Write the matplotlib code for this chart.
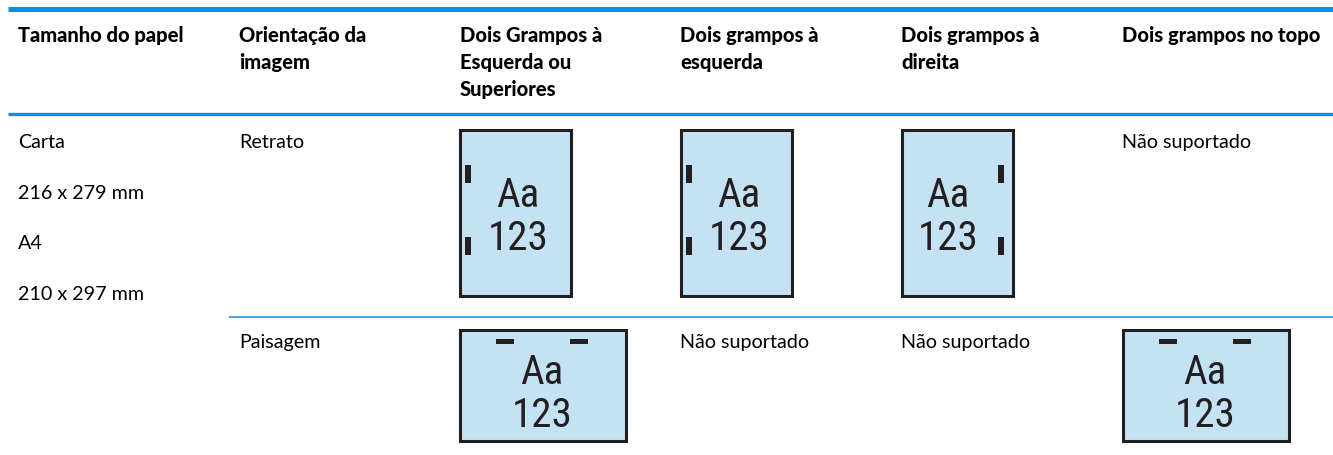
import matplotlib
matplotlib.use("Agg")
import matplotlib.pyplot as plt
from matplotlib import font_manager
from matplotlib.patches import Rectangle

# table content
headers = [
    "Tamanho do papel",
    "Orientação da\nimagem",
    "Dois Grampos à\nEsquerda ou\nSuperiores",
    "Dois grampos à\nesquerda",
    "Dois grampos à\ndireita",
    "Dois grampos no topo",
]
paper_sizes = ["Carta", "216 x 279 mm", "A4", "210 x 297 mm"]
orientations = ["Retrato", "Paisagem"]
# what sits in each stapling column, per orientation
cells = [
    ["left", "left", "right", None],
    ["top", None, None, "top"],
]
unsupported = "Não suportado"

BLUE = "#0096d6"
INK = "#231f20"
PAGE = "#c5e2f5"
W, H = 1333, 456

plt.rcParams["font.family"] = ["Lato", "DejaVu Sans"]
installed = {f.name for f in font_manager.fontManager.ttflist}
icon_font = "Roboto Condensed" if "Roboto Condensed" in installed else "Lato"
icon_size = 29.5 if icon_font == "Roboto Condensed" else 27.5

fig = plt.figure(figsize=(W / 100, H / 100), dpi=100)
ax = fig.add_axes([0, 0, 1, 1])
ax.set_xlim(0, W)
ax.set_ylim(H, 0)
ax.axis("off")

x0 = 8
colw = (W - x0) / len(headers)
col_left = [x0 + i * colw for i in range(len(headers))]
pad = 10
row_base = [148, 348]
FS = 14.2

# rules
ax.plot([x0, W], [9.5, 9.5], color=BLUE, lw=3.6, solid_capstyle="butt")
ax.plot([x0, W], [115, 115], color=BLUE, lw=2.4, solid_capstyle="butt")
ax.plot([col_left[1], W], [317.5, 317.5], color=BLUE, lw=1.1, solid_capstyle="butt")

# header
for i, h in enumerate(headers):
    for k, line in enumerate(h.split("\n")):
        ax.text(col_left[i] + pad, 42 + k * 27, line, fontsize=14.5, fontweight=900,
                va="baseline", ha="left", color="black")

# paper sizes
for k, s in enumerate(paper_sizes):
    ax.text(col_left[0] + pad, row_base[0] + k * 50.7, s, fontsize=FS,
            va="baseline", ha="left", color="black")

def page(x, y, kind):
    if kind == "top":
        w, h = 166, 111
    else:
        w, h = 111, 166
    ax.add_patch(Rectangle((x, y), w, h, facecolor=PAGE, edgecolor=INK, lw=2.2))
    if kind == "left":
        for sy in (35, 107):
            ax.add_patch(Rectangle((x + 5, y + sy), 6, 18, facecolor=INK, lw=0))
        cx, b1, b2 = x + 58, y + 76, y + 119
    elif kind == "right":
        for sy in (35, 107):
            ax.add_patch(Rectangle((x + 96, y + sy), 6, 18, facecolor=INK, lw=0))
        cx, b1, b2 = x + 46, y + 76, y + 119
    else:
        for sx in (36, 110):
            ax.add_patch(Rectangle((x + sx, y + 9), 18, 5, facecolor=INK, lw=0))
        cx, b1, b2 = x + 82, y + 53, y + 96
    for b, s in ((b1, "Aa"), (b2, "123")):
        ax.text(cx, b, s, fontsize=icon_size, family=icon_font,
                ha="center", va="baseline", color=INK)

for r, orient in enumerate(orientations):
    base = row_base[r]
    ax.text(col_left[1] + pad, base, orient, fontsize=FS,
            va="baseline", ha="left", color="black")
    for c, kind in enumerate(cells[r]):
        cl = col_left[c + 2]
        if kind is None:
            ax.text(cl + pad, base, unsupported, fontsize=FS,
                    va="baseline", ha="left", color="black")
        else:
            page(cl + pad + 0.5, base - 17, kind)

fig.savefig("out.png", dpi=100)
